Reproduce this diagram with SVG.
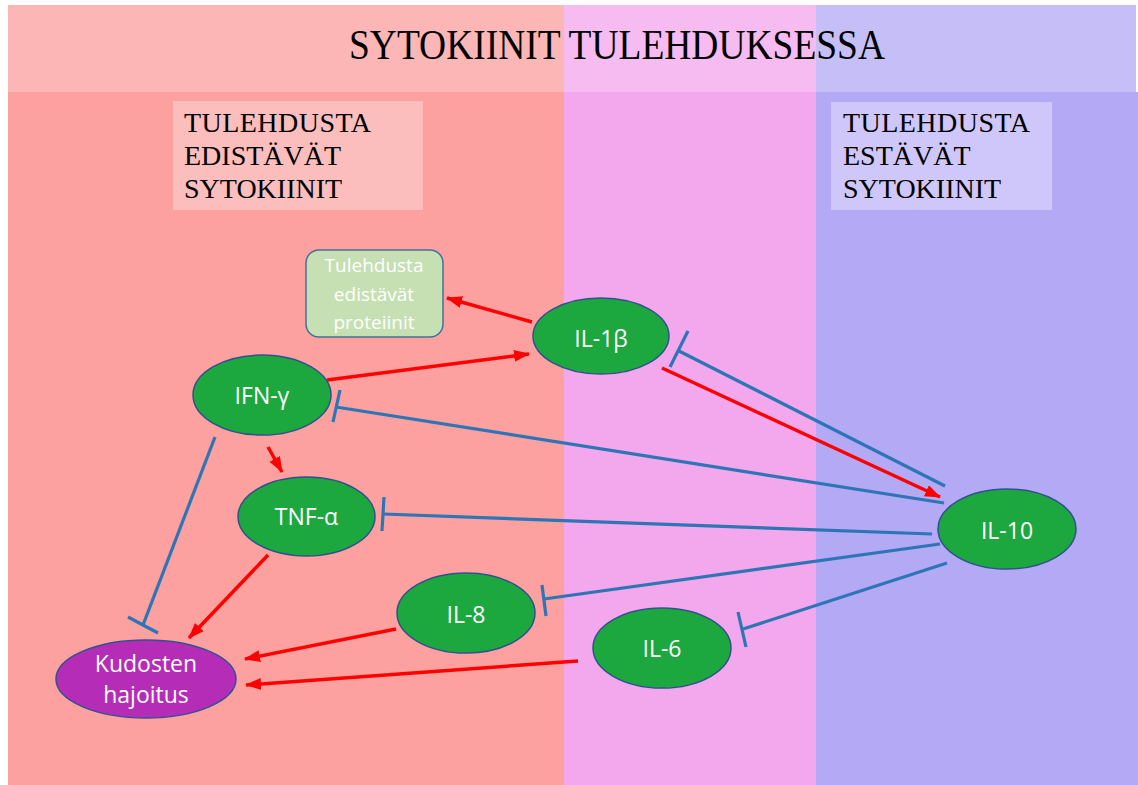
<svg xmlns="http://www.w3.org/2000/svg" width="1138" height="785" viewBox="0 0 1138 785">
<style>
.node{fill:#1DA73F;stroke:#2F528F;stroke-width:1.5}
.nt{font-family:"Open Sans","Liberation Sans",sans-serif;font-size:23px;fill:#FFFFFF;text-anchor:middle}
.pt{font-family:"Open Sans","Liberation Sans",sans-serif;font-size:19px;fill:#FFFFFF;text-anchor:middle}
.serif{font-family:"Liberation Serif","DejaVu Serif",serif;fill:#000000}
.lbl{font-size:28px}
.act{stroke:#FF0000;stroke-width:3.5;fill:none;marker-end:url(#ah)}
.inh{stroke:#2E75B6;stroke-width:3.2;fill:none}
</style>
<defs>
<marker id="ah" markerUnits="userSpaceOnUse" markerWidth="18" markerHeight="14" refX="15" refY="6" orient="auto">
<path d="M0,0 L16,6 L0,12 z" fill="#FF0000"/>
</marker>
</defs>
<rect x="0" y="0" width="1138" height="785" fill="#FFFFFF"/>
<g id="background">
<rect x="8" y="92" width="556" height="693" fill="#FCA0A0"/>
<rect x="564" y="92" width="252" height="693" fill="#F3A7EC"/>
<rect x="816" y="92" width="322" height="693" fill="#B3A9F5"/>
<rect x="8" y="5" width="556" height="87" fill="#FDB6B6"/>
<rect x="564" y="5" width="252" height="87" fill="#F6BBF1"/>
<rect x="816" y="5" width="320" height="87" fill="#C6BEF7"/>
</g>
<g id="title">
<text class="serif" x="617" y="59" font-size="42" text-anchor="middle" textLength="536" lengthAdjust="spacingAndGlyphs">SYTOKIINIT TULEHDUKSESSA</text>
</g>
<g id="label-pro">
<rect x="173" y="101" width="250" height="109" fill="#FCBDBD"/>
<text class="serif lbl" x="184" y="132" textLength="187">TULEHDUSTA</text>
<text class="serif lbl" x="184" y="165">EDISTÄVÄT</text>
<text class="serif lbl" x="184" y="198">SYTOKIINIT</text>
</g>
<g id="label-anti">
<rect x="831" y="102" width="221" height="108" fill="#CFC7F9"/>
<text class="serif lbl" x="843" y="132" textLength="187">TULEHDUSTA</text>
<text class="serif lbl" x="843" y="165">ESTÄVÄT</text>
<text class="serif lbl" x="843" y="198">SYTOKIINIT</text>
</g>
<g id="connectors">
<line class="act" x1="532" y1="322" x2="447" y2="298"/>
<line class="act" x1="327" y1="380" x2="529" y2="354"/>
<line class="act" x1="662" y1="368" x2="940" y2="497"/>
<line class="act" x1="268" y1="447" x2="282" y2="472"/>
<line class="act" x1="268" y1="555" x2="189" y2="638"/>
<line class="act" x1="396" y1="629" x2="245" y2="659"/>
<line class="act" x1="578" y1="661" x2="246" y2="685"/>
<line class="inh" x1="945" y1="486" x2="679" y2="351"/>
<line class="inh" x1="688" y1="331" x2="670" y2="367"/>
<line class="inh" x1="944" y1="503" x2="336" y2="407"/>
<line class="inh" x1="340" y1="390" x2="333" y2="422"/>
<line class="inh" x1="932" y1="534" x2="383" y2="514"/>
<line class="inh" x1="384" y1="497" x2="382" y2="531"/>
<line class="inh" x1="940" y1="544" x2="544" y2="599"/>
<line class="inh" x1="542" y1="585" x2="546" y2="616"/>
<line class="inh" x1="947" y1="563" x2="743" y2="629"/>
<line class="inh" x1="738" y1="612" x2="746" y2="647"/>
<line class="inh" x1="215" y1="437" x2="143" y2="625"/>
<line class="inh" x1="128" y1="617" x2="158" y2="633"/>
</g>
<g id="proteiinit">
<rect x="306" y="250" width="137" height="87" rx="13" ry="13" fill="#C6E0B4" stroke="#41719C" stroke-width="1.5"/>
<text class="pt" x="374" y="272">Tulehdusta</text>
<text class="pt" x="374" y="301">edistävät</text>
<text class="pt" x="374" y="329">proteiinit</text>
</g>
<g id="il1b">
<ellipse class="node" cx="601" cy="336" rx="68" ry="38"/>
<text class="nt" x="601" y="347">IL-1β</text>
</g>
<g id="ifng">
<ellipse class="node" cx="262" cy="395" rx="69" ry="40"/>
<text class="nt" x="262" y="404">IFN-γ</text>
</g>
<g id="tnfa">
<ellipse class="node" cx="306.5" cy="516.5" rx="68.5" ry="39.5"/>
<text class="nt" x="306.5" y="525">TNF-α</text>
</g>
<g id="il10">
<ellipse class="node" cx="1007" cy="529" rx="69" ry="40"/>
<text class="nt" x="1007" y="539">IL-10</text>
</g>
<g id="il8">
<ellipse class="node" cx="466" cy="613" rx="69" ry="40"/>
<text class="nt" x="466" y="623">IL-8</text>
</g>
<g id="il6">
<ellipse class="node" cx="662" cy="648" rx="69" ry="40"/>
<text class="nt" x="662" y="657">IL-6</text>
</g>
<g id="kudosten">
<ellipse cx="146" cy="679" rx="90" ry="39" fill="#B52DB7" stroke="#2F528F" stroke-width="1.5"/>
<text class="nt" x="146" y="672">Kudosten</text>
<text class="nt" x="146" y="703">hajoitus</text>
</g>
</svg>
